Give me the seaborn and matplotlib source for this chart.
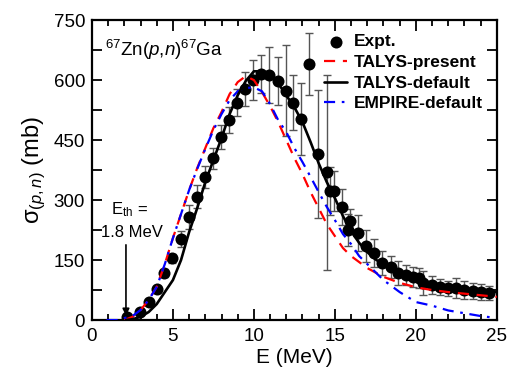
import matplotlib
matplotlib.use("Agg")
import matplotlib.pyplot as plt
from matplotlib.ticker import MultipleLocator
import seaborn as sns
import pandas as pd

# experimental points (E in MeV, sigma in mb, error in mb)
expt_E = [2.14, 2.96, 3.5, 3.99, 4.47, 4.96, 5.47, 5.97, 6.48, 7.0, 7.49, 7.96,
          8.44, 8.93, 9.44, 9.96, 10.41, 10.95, 11.46, 11.98, 12.43, 12.9, 13.41,
          13.94, 14.49, 14.69, 14.94, 15.41, 15.83, 15.93, 16.44, 16.91, 17.43,
          17.94, 18.46, 18.91, 19.42, 19.8, 20.2, 20.45, 20.97, 21.48, 22.0, 22.5,
          23.0, 23.5, 24.0, 24.5]
expt_sig = [8, 19, 44, 77, 117, 154, 203, 258, 308, 357, 404, 457,
            500, 544, 578, 600, 615, 613, 598, 574, 544, 503, 640,
            415, 369, 323, 323, 283, 225, 248, 217, 185, 167,
            143, 132, 117, 113, 108, 104, 92, 88, 82, 79, 79,
            75, 73, 71, 68]
expt_err = [4, 5, 6, 8, 10, 12, 20, 30, 29, 28, 27, 30,
            32, 33, 43, 50, 47, 70, 60, 115, 70, 90, 78,
            160, 245, 60, 50, 45, 40, 30, 45, 40, 35,
            30, 28, 30, 25, 25, 25, 30, 22, 20, 18, 25,
            22, 20, 20, 18]

# TALYS-present
tp_E = [2.0, 2.5, 3.0, 3.5, 4.0, 4.5, 5.0, 5.5, 6.0, 6.5, 7.0, 7.5, 8.0, 8.5,
        9.0, 9.5, 10.0, 10.5, 11.0, 11.5, 12.0, 12.5, 13.0, 13.5, 14.0, 14.5,
        15.0, 15.5, 16.0, 17.0, 18.0, 19.0, 20.0, 21.0, 22.0, 23.0, 24.0, 25.0]
tp_sig = [0, 8, 25, 50, 83, 140, 205, 265, 325, 380, 430, 480, 520, 565,
          595, 610, 600, 570, 535, 495, 450, 405, 365, 320, 280, 240,
          210, 180, 160, 130, 108, 93, 82, 75, 70, 66, 62, 58]

# TALYS-default
td_E = [2.1, 2.5, 3.0, 3.5, 4.0, 4.5, 5.0, 5.5, 6.0, 6.5, 7.0, 7.5, 8.0, 8.5,
        9.0, 9.5, 10.0, 10.5, 11.0, 11.5, 12.0, 12.5, 13.0, 13.5, 14.0, 14.5,
        15.0, 15.5, 16.0, 16.5, 17.0, 17.5, 18.0, 19.0, 20.0, 21.0, 22.0, 23.0,
        24.0, 25.0]
td_sig = [0, 2, 8, 20, 40, 70, 100, 150, 220, 280, 345, 400, 455, 515,
          562, 598, 622, 622, 612, 592, 562, 532, 495, 445, 392, 345,
          305, 260, 222, 193, 170, 152, 138, 118, 103, 92, 84, 78,
          74, 70]

# EMPIRE-default
em_E = [0.9, 1.7, 2.0, 2.5, 3.0, 3.5, 4.0, 4.5, 5.0, 5.5, 6.0, 6.5, 7.0, 7.5,
        8.0, 8.5, 9.0, 9.5, 10.0, 10.5, 11.0, 11.5, 12.0, 12.5, 13.0, 13.5,
        14.0, 14.5, 15.0, 15.5, 16.0, 16.5, 17.0, 18.0, 19.0, 20.0, 21.0, 22.0,
        23.0, 24.0, 24.6]
em_sig = [0, 0, 5, 10, 25, 50, 83, 140, 205, 265, 325, 378, 428, 475,
          515, 550, 572, 580, 582, 572, 540, 500, 470, 430, 395, 358,
          320, 283, 250, 215, 190, 160, 140, 100, 70, 45, 36, 24,
          17, 10, 7]

sns.set_style("ticks")
plt.rcParams['font.family'] = ['Liberation Sans', 'DejaVu Sans']
plt.rcParams['mathtext.fontset'] = 'custom'
plt.rcParams['mathtext.rm'] = 'Liberation Sans'
plt.rcParams['mathtext.it'] = 'Liberation Sans:italic'
plt.rcParams['mathtext.bf'] = 'Liberation Sans:bold'
for k in ['axes.edgecolor', 'xtick.color', 'ytick.color', 'text.color',
          'axes.labelcolor']:
    plt.rcParams[k] = 'black'

fig = plt.figure(figsize=(5.08, 3.87), dpi=100)
ax = fig.add_axes([0.181, 0.173, 0.797, 0.775])

df_tp = pd.DataFrame({'E': tp_E, 'sig': tp_sig})
df_td = pd.DataFrame({'E': td_E, 'sig': td_sig})
df_em = pd.DataFrame({'E': em_E, 'sig': em_sig})
df_ex = pd.DataFrame({'E': expt_E, 'sig': expt_sig, 'err': expt_err})

ax.errorbar(df_ex['E'], df_ex['sig'], yerr=df_ex['err'], fmt='none',
            ecolor='#555555', elinewidth=1, capsize=3, capthick=1, zorder=2)
sns.scatterplot(data=df_ex, x='E', y='sig', ax=ax, color='black', s=75,
                edgecolor='black', linewidth=0, zorder=3, label='Expt.')
sns.lineplot(data=df_tp, x='E', y='sig', ax=ax, color='red', lw=1.6,
             zorder=4, label='TALYS-present')
sns.lineplot(data=df_td, x='E', y='sig', ax=ax, color='black', lw=1.9,
             zorder=5, label='TALYS-default')
sns.lineplot(data=df_em, x='E', y='sig', ax=ax, color='blue', lw=1.6,
             zorder=4, label='EMPIRE-default')
ax.lines[-3].set_dashes([5, 3.5])
ax.lines[-1].set_dashes([5, 3, 1.2, 3])

ax.set_xlim(0, 25)
ax.set_ylim(0, 750)
ax.xaxis.set_major_locator(MultipleLocator(5))
ax.xaxis.set_minor_locator(MultipleLocator(1))
ax.yaxis.set_major_locator(MultipleLocator(150))
ax.yaxis.set_minor_locator(MultipleLocator(75))
ax.tick_params(which='both', direction='in', top=True, right=True,
               labelsize=13.5, width=1.3, colors='black')
ax.tick_params(axis='x', which='major', length=8, pad=6)
ax.tick_params(axis='x', which='minor', length=4)
ax.tick_params(axis='y', which='both', length=7, pad=5)
for sp in ax.spines.values():
    sp.set_linewidth(1.6)
    sp.set_color('black')
    sp.set_visible(True)

ax.set_xlabel('E (MeV)', fontsize=15, labelpad=2)
ax.set_ylabel(r'σ$_{(p,n)}$ (mb)', fontsize=17, labelpad=4)

ax.text(0.8, 675, r'$^{67}$Zn($p$,$n$)$^{67}$Ga', fontsize=13.5, va='center')
ax.text(2.3, 277, r'E$_{\rm th}$ =', fontsize=12, ha='center', va='center')
ax.text(2.45, 220, '1.8 MeV', fontsize=12, ha='center', va='center')
ax.annotate('', xy=(2.1, 4), xytext=(2.1, 195),
            arrowprops=dict(arrowstyle='-|>', color='black', lw=1.2,
                            mutation_scale=10))

h, l = ax.get_legend_handles_labels()
ax.legend(h, l, loc='upper right', frameon=False, handlelength=1.3,
          handletextpad=0.4, labelspacing=0.32, borderaxespad=0.4,
          prop={'weight': 'bold', 'size': 12.5})

fig.savefig('out.png', dpi=100)
